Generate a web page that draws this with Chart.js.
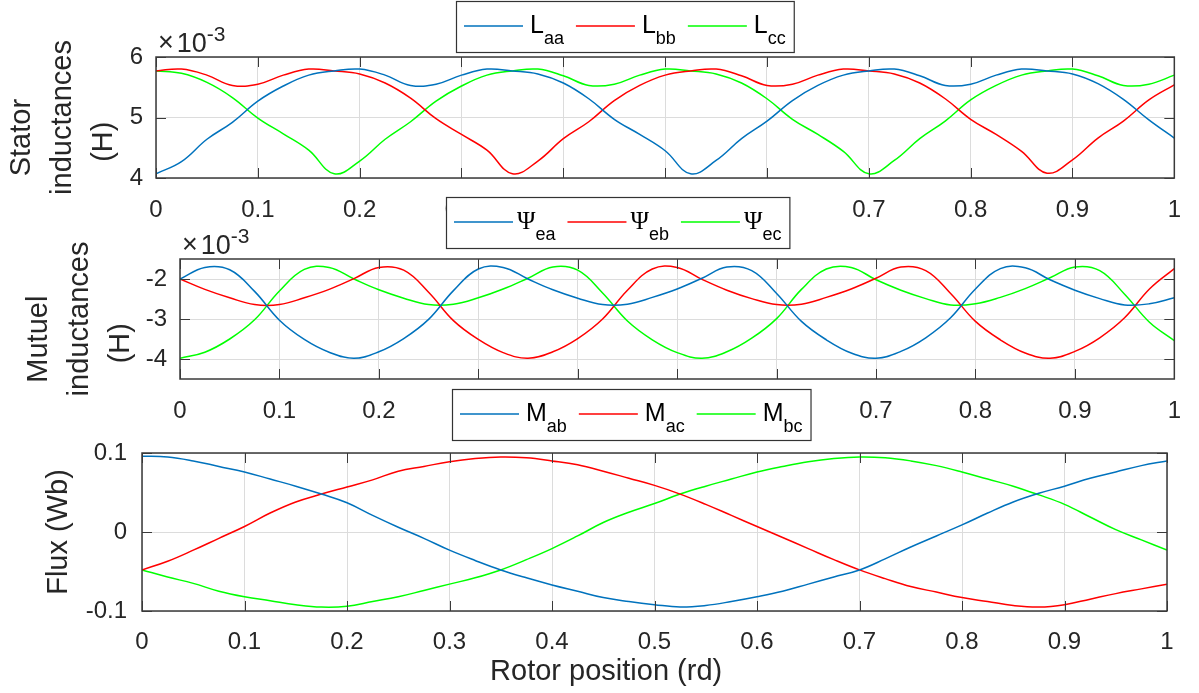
<!DOCTYPE html>
<html>
<head>
<meta charset="utf-8">
<script src="https://cdn.jsdelivr.net/npm/chart.js@4.4.1/dist/chart.umd.min.js"></script>
<style>
  body { margin: 0; background: #fff; }
  #wrap { position: relative; width: 1199px; height: 693px; }
  canvas { position: absolute; left: 0; top: 0; }
</style>
</head>
<body>
<div id="wrap">
  <canvas id="c1" width="1199" height="693"></canvas>
  <canvas id="c2" width="1199" height="693"></canvas>
  <canvas id="c3" width="1199" height="693"></canvas>
</div>
<script>
// rotor position (rd), shared by all three plots
var rotorPos = [0, 0.025, 0.05, 0.075, 0.1, 0.125, 0.15, 0.175, 0.2, 0.225,
  0.25, 0.275, 0.3, 0.325, 0.35, 0.375, 0.4, 0.425, 0.45, 0.475,
  0.5, 0.525, 0.55, 0.575, 0.6, 0.625, 0.65, 0.675, 0.7, 0.725,
  0.75, 0.775, 0.8, 0.825, 0.85, 0.875, 0.9, 0.925, 0.95, 0.975, 1];

// stator self inductances, x1e-3 H
var Laa = [4.07, 4.27, 4.64, 4.92, 5.27, 5.52, 5.70, 5.77, 5.80, 5.70,
  5.53, 5.55, 5.70, 5.80, 5.77, 5.72, 5.57, 5.31, 4.97, 4.72,
  4.45, 4.07, 4.29, 4.65, 4.94, 5.28, 5.53, 5.70, 5.77, 5.80,
  5.69, 5.53, 5.55, 5.70, 5.80, 5.77, 5.72, 5.56, 5.30, 4.96, 4.66];
var Lbb = [5.77, 5.80, 5.70, 5.53, 5.55, 5.70, 5.80, 5.77, 5.72, 5.57,
  5.32, 4.98, 4.72, 4.46, 4.07, 4.28, 4.65, 4.93, 5.28, 5.53,
  5.70, 5.77, 5.80, 5.69, 5.53, 5.55, 5.70, 5.80, 5.77, 5.72,
  5.57, 5.31, 4.97, 4.72, 4.44, 4.08, 4.30, 4.66, 4.94, 5.29, 5.54];
var Lcc = [5.77, 5.73, 5.58, 5.33, 4.99, 4.73, 4.46, 4.07, 4.28, 4.64,
  4.93, 5.27, 5.52, 5.70, 5.77, 5.80, 5.69, 5.53, 5.55, 5.70,
  5.80, 5.77, 5.72, 5.57, 5.31, 4.97, 4.72, 4.44, 4.07, 4.29,
  4.65, 4.94, 5.29, 5.53, 5.70, 5.77, 5.80, 5.69, 5.53, 5.55, 5.70];

// mutual inductances, x1e-3 H
var PsiEa = [-2.00, -1.71, -1.77, -2.31, -3.03, -3.51, -3.83, -3.98, -3.82, -3.49,
  -3.01, -2.29, -1.75, -1.71, -2.00, -2.27, -2.48, -2.64, -2.63, -2.46,
  -2.25, -1.98, -1.70, -1.79, -2.36, -3.06, -3.52, -3.85, -3.98, -3.81,
  -3.47, -2.97, -2.25, -1.74, -1.72, -2.02, -2.28, -2.49, -2.65, -2.62, -2.47];
var PsiEb = [-2.00, -2.26, -2.47, -2.64, -2.64, -2.47, -2.26, -1.99, -1.71, -1.78,
  -2.33, -3.04, -3.51, -3.84, -3.98, -3.82, -3.49, -3.00, -2.28, -1.75,
  -1.71, -2.01, -2.28, -2.49, -2.64, -2.63, -2.46, -2.25, -1.98, -1.70,
  -1.79, -2.36, -3.06, -3.52, -3.85, -3.98, -3.81, -3.47, -2.97, -2.25, -1.74];
var PsiEc = [-3.98, -3.83, -3.50, -3.02, -2.30, -1.76, -1.71, -2.00, -2.27, -2.48,
  -2.64, -2.63, -2.47, -2.25, -1.98, -1.70, -1.78, -2.35, -3.05, -3.52,
  -3.84, -3.98, -3.82, -3.48, -2.99, -2.26, -1.75, -1.71, -2.02, -2.28,
  -2.49, -2.65, -2.62, -2.46, -2.24, -1.97, -1.70, -1.79, -2.38, -3.08, -3.54];

// flux, Wb
var Mab = [0.096, 0.095, 0.090, 0.083, 0.076, 0.067, 0.058, 0.048, 0.037, 0.021,
  0.006, -0.008, -0.023, -0.036, -0.048, -0.058, -0.067, -0.075, -0.083, -0.088,
  -0.092, -0.095, -0.093, -0.088, -0.082, -0.075, -0.066, -0.057, -0.048, -0.034,
  -0.019, -0.005, 0.009, 0.024, 0.038, 0.049, 0.058, 0.068, 0.076, 0.084, 0.090];
var Mac = [-0.048, -0.037, -0.023, -0.008, 0.007, 0.024, 0.038, 0.048, 0.057, 0.066,
  0.077, 0.083, 0.089, 0.093, 0.095, 0.094, 0.090, 0.085, 0.077, 0.068,
  0.059, 0.048, 0.035, 0.021, 0.007, -0.007, -0.021, -0.035, -0.048, -0.059,
  -0.069, -0.076, -0.083, -0.088, -0.093, -0.095, -0.092, -0.085, -0.078, -0.072, -0.066];
var Mbc = [-0.048, -0.057, -0.065, -0.075, -0.082, -0.087, -0.092, -0.095, -0.094, -0.088,
  -0.082, -0.074, -0.066, -0.058, -0.048, -0.035, -0.021, -0.005, 0.012, 0.025,
  0.036, 0.048, 0.058, 0.067, 0.076, 0.083, 0.089, 0.093, 0.095, 0.094,
  0.090, 0.084, 0.076, 0.067, 0.058, 0.047, 0.035, 0.019, 0.003, -0.010, -0.023];

// tick values
var xTicks = [0, 0.1, 0.2, 0.3, 0.4, 0.5, 0.6, 0.7, 0.8, 0.9, 1];
var statorTicks = [4, 5, 6];
var mutualTicks = [-4, -3, -2];
var fluxTicks = [-0.1, 0, 0.1];

var FONT = '"Liberation Sans", Arial, sans-serif';
var INK = '#262626';
var BLUE = '#0072BD', RED = '#FF0000', GREEN = '#00FF00';

function pts(ys) {
    return rotorPos.map(function (x, i) { return {x: x, y: ys[i]}; });
}

function line(sym, sub, ys, color) {
    return {
        label: sym + sub, sym: sym, sub: sub, data: pts(ys),
        borderColor: color, borderWidth: 1.5, pointRadius: 0, tension: 0.4, fill: false
    };
}

// box, inward ticks, x10^n label and a legend with subscripts (matlab look)
var axesDeco = {
    id: 'axesDeco',
    afterDraw: function (chart, args, o) {
        var ctx = chart.ctx, a = chart.chartArea;
        var sx = chart.scales.x, sy = chart.scales.y;
        ctx.save();
        ctx.strokeStyle = '#3a3a3a';
        ctx.lineWidth = 1;
        ctx.beginPath();
        sx.ticks.forEach(function (t) {
            var p = Math.round(sx.getPixelForValue(t.value)) + 0.5;
            ctx.moveTo(p, a.bottom); ctx.lineTo(p, a.bottom - 10);
            ctx.moveTo(p, a.top); ctx.lineTo(p, a.top + 10);
        });
        sy.ticks.forEach(function (t) {
            var p = Math.round(sy.getPixelForValue(t.value)) + 0.5;
            ctx.moveTo(a.left, p); ctx.lineTo(a.left + 10, p);
            ctx.moveTo(a.right, p); ctx.lineTo(a.right - 10, p);
        });
        ctx.stroke();
        ctx.lineWidth = 1.5;
        ctx.strokeRect(a.left, a.top, a.width, a.height);

        ctx.fillStyle = INK;
        ctx.textAlign = 'left';
        ctx.textBaseline = 'alphabetic';
        if (o.exponent) {
            var bx = a.left + 2, by = a.top - 5;
            ctx.font = '27px ' + FONT;
            ctx.fillText('\u00D7', bx, by - 1);
            bx += ctx.measureText('\u00D7').width + 3;
            ctx.fillText('10', bx, by);
            bx += ctx.measureText('10').width;
            ctx.font = '21px ' + FONT;
            ctx.fillText(o.exponent, bx, by - 11);
        }

        if (o.legend) {
            var lg = o.legend, sets = chart.data.datasets;
            var symFont = '25px ' + (lg.symFont || FONT), subFont = '18px ' + FONT;
            var total = 0;
            sets.forEach(function (d, i) {
                ctx.font = symFont; var w1 = ctx.measureText(d.sym).width;
                ctx.font = subFont; var w2 = ctx.measureText(d.sub).width;
                total += 59 + lg.gap + w1 + w2 + (i < sets.length - 1 ? 12 : 0);
            });
            ctx.fillStyle = '#fff';
            ctx.fillRect(lg.x, lg.y, total + 16, 51);
            ctx.strokeStyle = '#333';
            ctx.lineWidth = 1.2;
            ctx.strokeRect(lg.x + 0.5, lg.y + 0.5, total + 16, 51);
            var x = lg.x + 8;
            sets.forEach(function (d) {
                ctx.strokeStyle = d.borderColor;
                ctx.lineWidth = 1.5;
                ctx.beginPath();
                ctx.moveTo(x, lg.y + 25); ctx.lineTo(x + 59, lg.y + 25);
                ctx.stroke();
                x += 59 + lg.gap;
                ctx.fillStyle = '#000';
                ctx.font = symFont;
                ctx.fillText(d.sym, x, lg.y + 32);
                x += ctx.measureText(d.sym).width;
                ctx.font = subFont;
                ctx.fillText(d.sub, x, lg.y + 43);
                x += ctx.measureText(d.sub).width + 12;
            });
        }
        ctx.restore();
    }
};

// p.left/right/top/bottom = plot box in page pixels
function makeChart(id, sets, p) {
    var xScale = {
        type: 'linear', min: 0, max: 1,
        afterBuildTicks: function (s) { s.ticks = xTicks.map(function (v) { return {value: v}; }); },
        afterFit: function (s) { s.height = p.xH; },
        grid: {color: '#dcdcdc', drawTicks: false},
        border: {display: false},
        ticks: {
            color: INK, padding: p.xTickPad, maxRotation: 0, autoSkip: false,
            font: {family: FONT, size: 24, lineHeight: 1.2},
            callback: function (v) { return String(v); }
        }
    };
    if (p.xTitle) {
        xScale.title = {
            display: true, text: p.xTitle, color: INK,
            font: {family: FONT, size: 29, lineHeight: 1.4}, padding: {top: 0, bottom: 1}
        };
    }
    return new Chart(document.getElementById(id), {
        type: 'line',
        data: {datasets: sets},
        options: {
            responsive: false, animation: false, events: [],
            layout: {padding: {left: 0, right: 1199 - p.right, top: p.top, bottom: 693 - p.bottom - p.xH}},
            scales: {
                x: xScale,
                y: {
                    min: p.yMin, max: p.yMax,
                    afterBuildTicks: function (s) { s.ticks = p.yTicks.map(function (v) { return {value: v}; }); },
                    afterFit: function (s) { s.width = p.left; },
                    grid: {color: '#dcdcdc', drawTicks: false},
                    border: {display: false},
                    ticks: {
                        color: INK, padding: p.yTickPad,
                        font: {family: FONT, size: 24, lineHeight: 1.2},
                        callback: function (v) { return String(v); }
                    },
                    title: {
                        display: true, text: p.yTitle, color: INK,
                        font: {family: FONT, size: 29, lineHeight: 1.4}, padding: {top: p.yTitlePad, bottom: 0}
                    }
                }
            },
            plugins: {
                legend: {display: false},
                tooltip: {enabled: false},
                axesDeco: {legend: p.legend, exponent: p.exponent}
            }
        },
        plugins: [axesDeco]
    });
}

makeChart('c1', [
    line('L', 'aa', Laa, BLUE),
    line('L', 'bb', Lbb, RED),
    line('L', 'cc', Lcc, GREEN)
], {
    left: 156, right: 1180, top: 57, bottom: 178, xH: 50,
    yMin: 4, yMax: 6, yTicks: statorTicks, yTickPad: 13, xTickPad: 18,
    yTitle: ['Stator     ', 'inductances', '(H)      '], yTitlePad: 2,
    exponent: '-3', legend: {x: 456, y: 1, gap: 7}
});

makeChart('c2', [
    line('\u03A8', 'ea', PsiEa, BLUE),
    line('\u03A8', 'eb', PsiEb, RED),
    line('\u03A8', 'ec', PsiEc, GREEN)
], {
    left: 180, right: 1180, top: 259, bottom: 379, xH: 50,
    yMin: -4.5, yMax: -1.5, yTicks: mutualTicks, yTickPad: 13, xTickPad: 18,
    yTitle: ['Mutuel     ', 'inductances', '(H)      '], yTitlePad: 19,
    exponent: '-3', legend: {x: 446, y: 197, gap: 4, symFont: '"Liberation Serif", serif'}
});

makeChart('c3', [
    line('M', 'ab', Mab, BLUE),
    line('M', 'ac', Mac, RED),
    line('M', 'bc', Mbc, GREEN)
], {
    left: 142, right: 1167, top: 453, bottom: 611, xH: 82,
    yMin: -0.1, yMax: 0.1, yTicks: fluxTicks, yTickPad: 15, xTickPad: 17,
    yTitle: 'Flux (Wb)', yTitlePad: 39,
    xTitle: 'Rotor position (rd)            ',
    legend: {x: 452, y: 389, gap: 7}
});
</script>
</body>
</html>
